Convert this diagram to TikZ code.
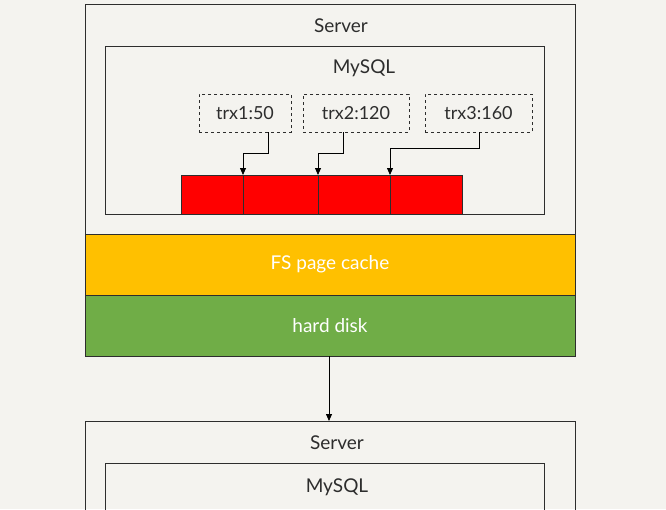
\documentclass[tikz,border=0pt]{standalone}
\usepackage{fontspec}
\setmainfont{Lato}
\usetikzlibrary{arrows.meta, positioning}
\definecolor{paper}{RGB}{244,243,239}
\definecolor{ink}{RGB}{45,45,45}
\definecolor{cacheyellow}{RGB}{255,192,0}
\definecolor{diskgreen}{RGB}{112,173,71}
\definecolor{bufred}{RGB}{255,0,0}

\begin{document}
\begin{tikzpicture}[
  x=1pt, y=-1pt,
  box/.style={draw=ink, line width=0.9pt, inner sep=0pt},
  title/.style={text=ink, font=\fontsize{19}{21}\selectfont},
  trx/.style={draw=ink, dashed, line width=0.8pt, minimum height=38pt, inner sep=0pt, text=ink, font=\fontsize{18}{20}\selectfont},
  cell/.style={draw=ink, fill=bufred, line width=0.6pt, minimum height=39pt, inner sep=0pt, outer sep=0pt},
  layer/.style={draw=ink, line width=0.9pt, minimum width=490pt, minimum height=61pt, inner sep=0pt, outer sep=0pt, text=white, font=\fontsize{19}{21}\selectfont},
  arr/.style={-{Triangle[length=7pt,width=6pt]}, line width=0.8pt, draw=black}
]
\clip (0,0) rectangle (666,509);
\fill[paper] (0,0) rectangle (666,509);

\node[box, minimum width=490pt, minimum height=352pt] (server) at (330,180) {};
\node[title] (servername) at (341,26) {Server};
\node[box, minimum width=439pt, minimum height=168pt] (mysql) at (324.5,130) {};
\node[title] (mysqlname) at (364,68) {MySQL};

\node[trx, minimum width=92pt] (t1) at (245,113) {trx1:50};
\node[trx, minimum width=106pt] (t2) at (356,113) {trx2:120};
\node[trx, minimum width=107pt] (t3) at (478.5,113) {trx3:160};

\node[cell, minimum width=62pt] (c1) at (212,194.5) {};
\node[cell, minimum width=75pt, right=0pt of c1] (c2) {};
\node[cell, minimum width=72pt, right=0pt of c2] (c3) {};
\node[cell, minimum width=72pt, right=0pt of c3] (c4) {};

\draw[arr] (t1.south -| 268,0) -- ++(0,21) -| (c1.north east);
\draw[arr] (t2.south -| 343,0) -- ++(0,21) -| (c2.north east);
\draw[arr] (t3.south -| 479,0) -- ++(0,16) -| (c3.north east);

\node[layer, fill=cacheyellow] (cache) at (330,264.5) {FS page cache};
\node[layer, fill=diskgreen, below=0pt of cache] (disk) {hard disk};

\node[box, minimum width=490pt, minimum height=200pt, anchor=north] (server2) at (330,421) {};
\node[title] (servername2) at (337,443) {Server};
\node[box, minimum width=439pt, minimum height=150pt, anchor=north west] (mysql2) at (105,463) {};
\node[title] (mysqlname2) at (337,487) {MySQL};

\draw[arr] (disk.south -| 329,0) -- (server2.north -| 329,0);
\end{tikzpicture}
\end{document}
